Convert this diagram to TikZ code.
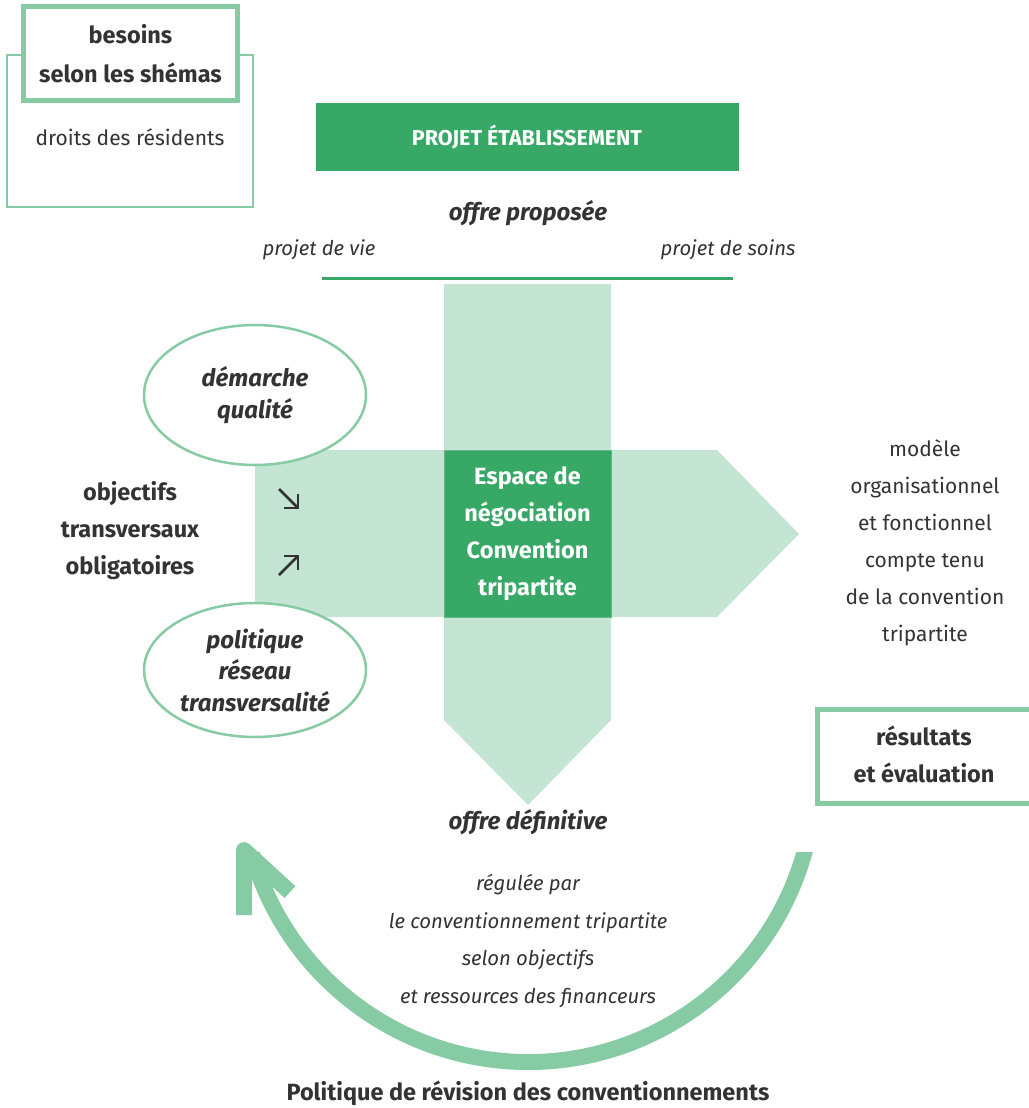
\documentclass[tikz,border=0pt]{standalone}
\usepackage{fontspec}
\setmainfont{Fira Sans}
\usepackage{xcolor}
\usetikzlibrary{calc}
\usetikzlibrary{shapes.geometric,positioning}

\definecolor{pale}{HTML}{C4E5D3}
\definecolor{leaf}{HTML}{37A866}
\definecolor{mint}{HTML}{86CBA3}
\definecolor{ink}{HTML}{333333}

\newcommand{\corps}{\fontsize{21}{37}\selectfont}
\newcommand{\gras}{\fontsize{23.5}{37}\selectfont\bfseries}
\newcommand{\petit}{\fontsize{20.3}{37.5}\selectfont}

\begin{document}
\begin{tikzpicture}[x=1pt,y=-1pt,text=ink,font=\corps]
  \tikzstyle{texte}=[align=center,inner sep=0pt]
  \tikzstyle{cadre}=[draw=mint,line width=2.5pt,fill=white]
  \tikzstyle{boite}=[draw=mint,line width=5pt,fill=white,align=center,font=\fontsize{23.5}{39}\selectfont\bfseries]
  \tikzstyle{plein}=[fill=leaf,text=white,align=center,font=\gras]
  \tikzstyle{bulle}=[ellipse,draw=mint,line width=2.5pt,fill=white,minimum width=222pt,align=center,inner sep=0pt,font=\fontsize{24}{31.5}\selectfont\bfseries\itshape]
  \tikzstyle{bloc}=[fill=pale]
  \tikzstyle{fleche}=[draw=ink,line width=2.5pt]
  \tikzstyle{cycle}=[draw=mint,line width=16pt]

  \useasboundingbox (0,0) rectangle (1028,1108);

  \node[cadre,minimum width=246pt,minimum height=152pt] (droits) at (130,131) {};
  \node[texte] (droitsT) at (130,137) {droits des résidents};
  \node[boite,minimum width=214pt,minimum height=94pt] (besoins) at (130.5,53.5) {besoins\\selon les shémas};

  \node[plein,minimum width=423pt,minimum height=68pt,font=\fontsize{21.5}{24}\selectfont\bfseries] (projet) at (527,137) {PROJET ÉTABLISSEMENT};
  \node[texte,font=\fontsize{24}{28}\selectfont\bfseries\itshape] (offre) at (528,213) {offre proposée};
  \node[texte,font=\petit\itshape] (vie) at (319,250) {projet de vie};
  \node[texte,font=\petit\itshape] (soins) at (728,250) {projet de soins};
  \draw[leaf,line width=3pt] (322,278) -- (733,278);

  \fill[bloc] (444,284) -- (611,284) -- (611,720) -- (528,805) -- (444,720) -- cycle;
  \fill[bloc] (255,450) -- (717,450) -- (799,534) -- (717,617) -- (255,617) -- cycle;
  \node[plein,draw=leaf!80!white,line width=1pt,minimum size=167pt] (espace) at (527.5,533.5) {Espace de\\négociation\\Convention\\tripartite};

  \node[bulle,minimum height=140pt] (qualite) at (255,395) {démarche\\qualité};
  \node[bulle,minimum height=134pt] (reseau) at (255,670) {politique\\réseau\\transversalité};

  \node[texte,font=\gras] (objectifs) at (130,531) {objectifs\\transversaux\\obligatoires};
  \draw[fleche] (279,489) -- (298,508);
  \draw[fleche] (298,494) -- (298,508) -- (284,508);
  \draw[fleche] (279,575) -- (298,556);
  \draw[fleche] (284,556) -- (298,556) -- (298,570);

  \node[texte] (modele) at (925,543) {modèle\\organisationnel\\et fonctionnel\\compte tenu\\de la convention\\tripartite};

  \draw[boite] (817.5,709.5) rectangle (1045,803.5);
  \node[texte,font=\gras] (resultats) at (924,754) {résultats\\et évaluation};

  \node[texte,font=\fontsize{24}{28}\selectfont\bfseries\itshape] (definitive) at (528,822) {offre définitive};
  \node[texte,font=\petit\itshape] (regulee) at (528,941) {régulée par\\le conventionnement tripartite\\selon objectifs\\et ressources des financeurs};
  \node[texte,font=\fontsize{23.5}{26}\selectfont\bfseries] (politique) at (528,1093) {Politique de révision des conventionnements};

  \coordinate (centre) at (528,775);
  \coordinate (pointe) at (244,850);
  \begin{scope}
    \clip (0,852) rectangle (1028,1108);
    \draw[cycle] ($(centre)+(10:287)$) arc[start angle=10,end angle=165,radius=287];
  \end{scope}
  \draw[cycle,line join=round] ($(pointe)+(0,65)$) -- (pointe) -- ($(pointe)+(46,42)$);
\end{tikzpicture}
\end{document}
